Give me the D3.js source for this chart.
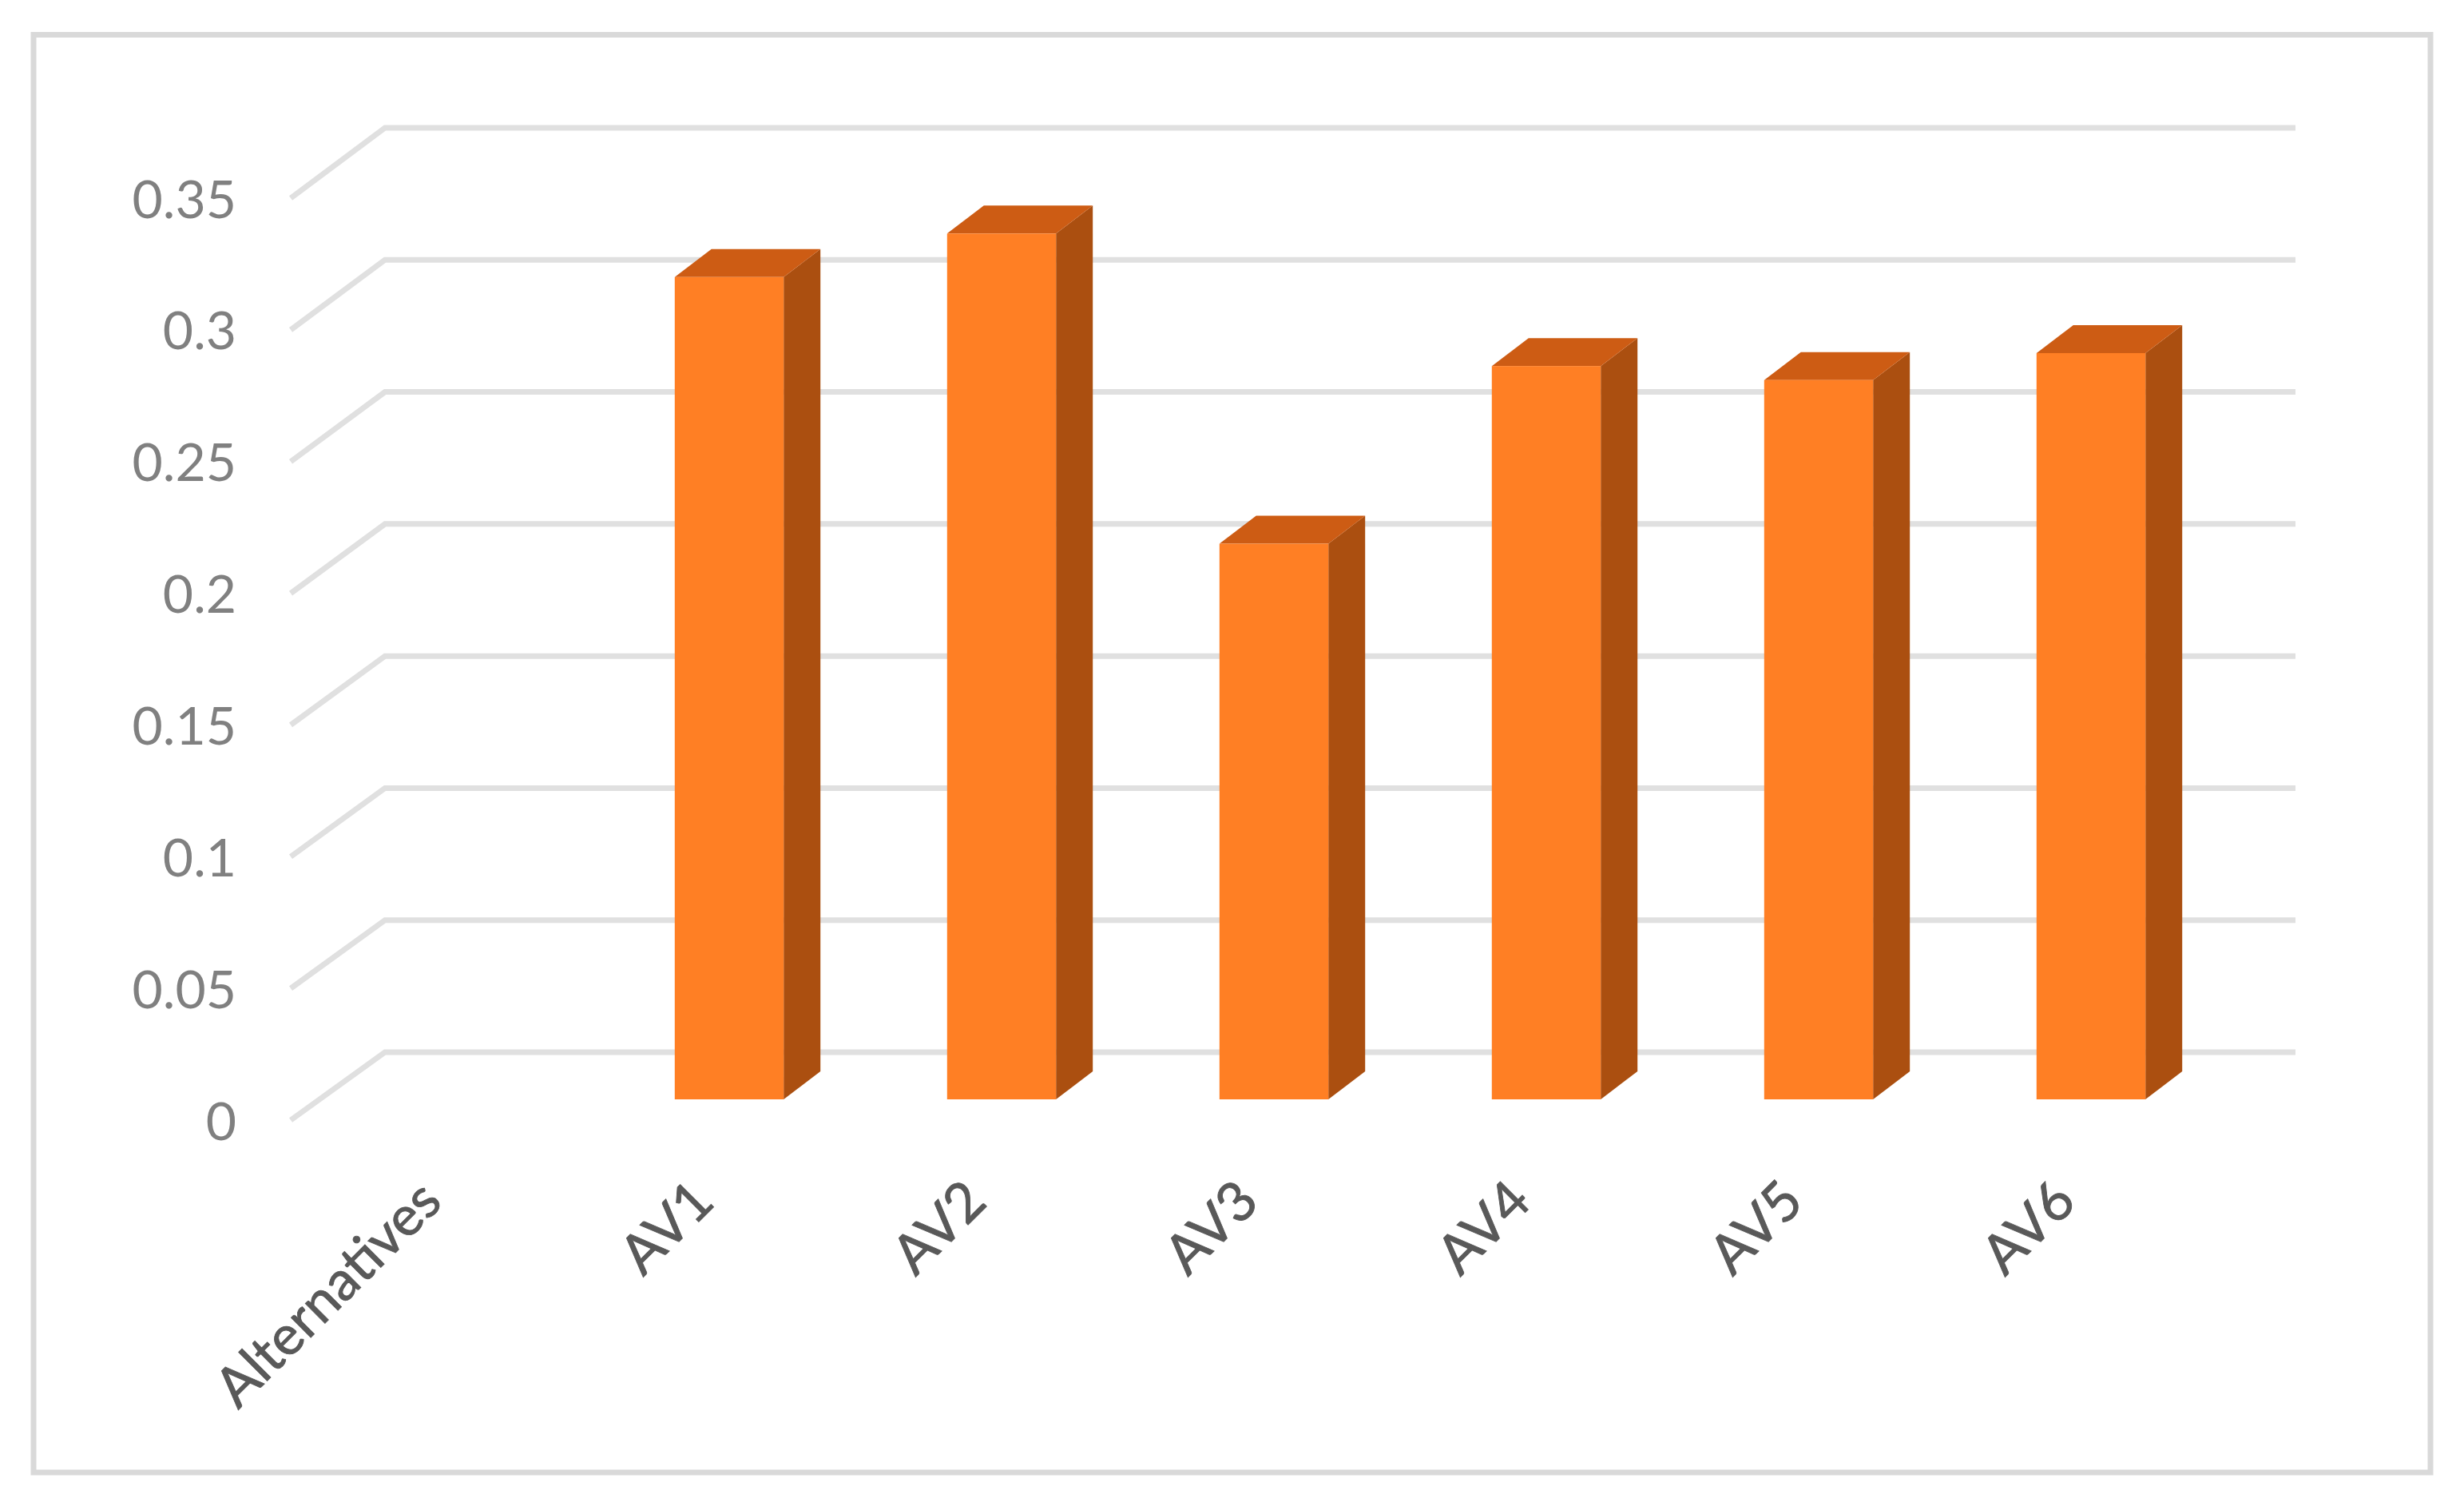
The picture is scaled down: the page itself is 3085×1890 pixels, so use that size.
<!DOCTYPE html>
<html>
<head>
<meta charset="utf-8">
<script src="https://cdn.jsdelivr.net/npm/d3@7"></script>
<style>
  html, body { margin: 0; padding: 0; background: #fff; }
  svg { display: block; }
  .tick text { font-family: Lato, sans-serif; }
</style>
</head>
<body>
<svg class="chart" width="3085" height="1890"></svg>
<script>
const categories = ['Alternatives', 'AV1', 'AV2', 'AV3', 'AV4', 'AV5', 'AV6']
const values = [null, 0.3115, 0.328, 0.2105, 0.2778, 0.2725, 0.2827]
const yTicks = [0, 0.05, 0.1, 0.15, 0.2, 0.25, 0.3, 0.35]

const svg = d3.select('svg.chart')

// outer frame
svg.append('rect')
  .attr('x', 42).attr('y', 43.5)
  .attr('width', 3001).attr('height', 1799.5)
  .attr('fill', '#fff')
  .attr('stroke', '#d9d9d9')
  .attr('stroke-width', 7)

const x = d3.scaleBand()
  .domain(categories)
  .range([401.5, 2788.5])
  .paddingInner(0.6)
  .paddingOuter(0.3)

// bars stand on their own plane, a little behind the front edge of the floor
const yBar = d3.scaleLinear().domain([0, 0.35]).range([1376, 219.6])
const yFront = d3.scaleLinear().domain([0, 0.35]).range([1402, 248])
const yBack = d3.scaleLinear().domain([0, 0.35]).range([1317, 160])

const wallLeft = 482, wallRight = 2874, floorLeft = 364
const depthX = 46, depthY = 35

const grid = svg.append('g')
yTicks.forEach(t => {
  grid.append('polyline')
    .attr('points', [[floorLeft, yFront(t)], [wallLeft, yBack(t)], [wallRight, yBack(t)]].join(' '))
    .attr('fill', 'none')
    .attr('stroke', '#e0e0e0')
    .attr('stroke-width', 7)
})

const bars = categories
  .map((c, i) => ({ name: c, value: values[i] }))
  .filter(d => d.value !== null)

const bar = svg.selectAll('.bar').data(bars).enter().append('g').attr('class', 'bar')

// side face
bar.append('polygon')
  .attr('fill', '#ab4f10')
  .attr('points', d => {
    const r = x(d.name) + x.bandwidth()
    return [[r, yBar(d.value)], [r + depthX, yBar(d.value) - depthY], [r + depthX, yBar(0) - depthY], [r, yBar(0)]].join(' ')
  })

// top face
bar.append('polygon')
  .attr('fill', '#cd5c14')
  .attr('points', d => {
    const l = x(d.name), r = l + x.bandwidth(), t = yBar(d.value)
    return [[l, t], [l + depthX, t - depthY], [r + depthX, t - depthY], [r, t]].join(' ')
  })

// front face
bar.append('rect')
  .attr('fill', '#ff7f24')
  .attr('x', d => x(d.name))
  .attr('y', d => yBar(d.value))
  .attr('width', x.bandwidth())
  .attr('height', d => yBar(0) - yBar(d.value))

const yAxis = svg.append('g')
  .attr('transform', 'translate(296,3)')
  .call(d3.axisLeft(yFront).tickValues(yTicks).tickFormat(d => String(d)).tickSize(0).tickPadding(0))
yAxis.select('.domain').remove()
yAxis.selectAll('text')
  .attr('font-size', 66)
  .attr('fill', '#808080')
  .style('font-family', 'Lato, sans-serif')

const xAxis = svg.append('g')
  .attr('transform', 'translate(0,1440)')
  .call(d3.axisBottom(x).tickSize(0).tickPadding(0))
xAxis.select('.domain').remove()
xAxis.selectAll('text')
  .attr('font-size', 69)
  .attr('fill', '#595959')
  .attr('stroke', '#595959')
  .attr('stroke-width', 0.9)
  .attr('text-anchor', 'end')
  .attr('dy', '0.35em')
  .attr('transform', 'translate(-33,50) rotate(-45)')
  .style('font-family', 'Lato, sans-serif')
</script>
</body>
</html>
